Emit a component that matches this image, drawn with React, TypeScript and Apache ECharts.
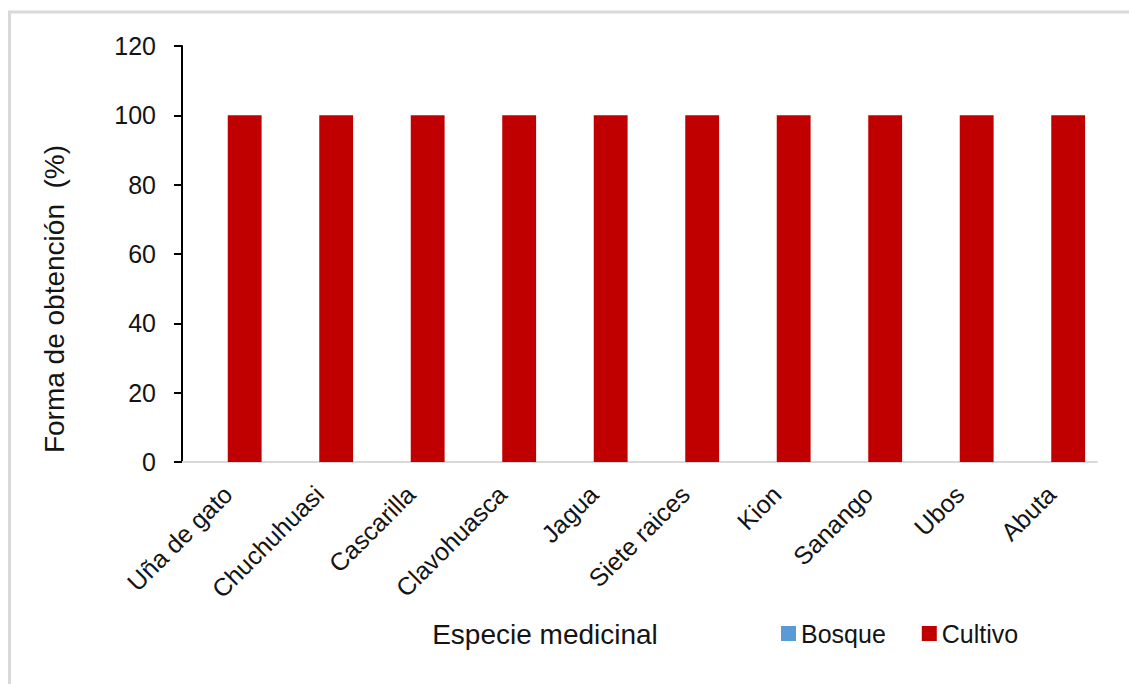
import React, { useEffect, useRef } from "react";
import * as echarts from "echarts";

// Medicinal species and how they are obtained (% of responses)
const species = [
  "Uña de gato",
  "Chuchuhuasi",
  "Cascarilla",
  "Clavohuasca",
  "Jagua",
  "Siete raices",
  "Kion",
  "Sanango",
  "Ubos",
  "Abuta",
];
const bosque = [0, 0, 0, 0, 0, 0, 0, 0, 0, 0];
const cultivo = [100, 100, 100, 100, 100, 100, 100, 100, 100, 100];
const yTicks = { min: 0, max: 120, interval: 20 };

const FONT = "'Liberation Sans', Arial, sans-serif";
const TEXT = "#141414";

export default function App() {
  const ref = useRef<HTMLDivElement>(null);

  useEffect(() => {
    document.body.style.margin = "0";
    if (!ref.current) return;
    const chart = echarts.init(ref.current, null, { renderer: "svg" });
    chart.setOption({
      animation: false,
      backgroundColor: "#ffffff",
      textStyle: { fontFamily: FONT },
      grid: { left: 182, right: 32, top: 46, bottom: 222, containLabel: false },
      legend: {
        data: ["Bosque", "Cultivo"],
        left: 776,
        top: 616,
        icon: "rect",
        itemWidth: 15,
        itemHeight: 15,
        itemGap: 36,
        textStyle: { fontSize: 25, color: TEXT, fontFamily: FONT },
      },
      xAxis: {
        type: "category",
        data: species,
        axisLine: { lineStyle: { color: "#d9d9d9", width: 2 } },
        axisTick: { show: false },
        axisLabel: {
          rotate: 45,
          interval: 0,
          margin: 28,
          fontSize: 25,
          color: TEXT,
          fontFamily: FONT,
        },
      },
      yAxis: {
        type: "value",
        min: yTicks.min,
        max: yTicks.max,
        interval: yTicks.interval,
        splitLine: { show: false },
        axisLine: { show: true, lineStyle: { color: "#000", width: 2 } },
        axisTick: { show: true, length: 8, lineStyle: { color: "#000", width: 2 } },
        axisLabel: { margin: 26, fontSize: 25, color: TEXT, fontFamily: FONT },
      },
      graphic: [
        {
          type: "rect",
          shape: { x: 9.5, y: 12, width: 1300, height: 800 },
          style: { fill: "none", stroke: "#d9d9d9", lineWidth: 3 },
          silent: true,
        },
        {
          type: "text",
          x: 545,
          y: 634,
          style: {
            text: "Especie medicinal",
            font: `28px ${FONT}`,
            fill: TEXT,
            align: "center",
            verticalAlign: "middle",
          },
        },
        {
          type: "text",
          x: 54,
          y: 299,
          rotation: Math.PI / 2,
          style: {
            text: "Forma de obtención  (%)",
            font: `28px ${FONT}`,
            fill: TEXT,
            align: "center",
            verticalAlign: "middle",
          },
        },
      ],
      series: [
        {
          name: "Bosque",
          type: "bar",
          data: bosque,
          barGap: "0%",
          barCategoryGap: "26%",
          itemStyle: { color: "#5b9bd5" },
        },
        {
          name: "Cultivo",
          type: "bar",
          data: cultivo,
          barGap: "0%",
          barCategoryGap: "26%",
          itemStyle: { color: "#c00000" },
        },
      ],
    });
    return () => chart.dispose();
  }, []);

  return <div ref={ref} style={{ width: 1129, height: 684 }} />;
}
